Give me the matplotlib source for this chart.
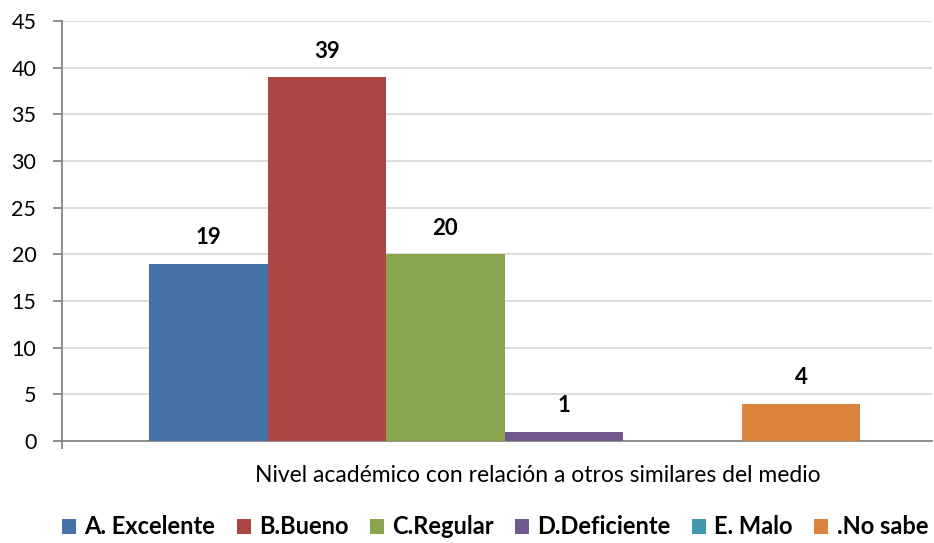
import matplotlib
matplotlib.use("Agg")
import matplotlib.pyplot as plt
from matplotlib.patches import Patch

series = ["A. Excelente", "B.Bueno", "C.Regular", "D.Deficiente", "E. Malo", ".No sabe"]
values = [19, 39, 20, 1, 0, 4]
colors = ["#4572A7", "#AA4643", "#89A54E", "#71588F", "#4198AF", "#DB843D"]
x_title = "Nivel académico con relación a otros similares del medio"
yticks = [0, 5, 10, 15, 20, 25, 30, 35, 40, 45]

plt.rcParams['font.family'] = ['Lato', 'DejaVu Sans']

W, H = 934, 543
fig = plt.figure(figsize=(W/100, H/100), dpi=100)
left, right, bottom, top = 62, 932, 441, 21
ax = fig.add_axes([left/W, 1 - bottom/H, (right-left)/W, (bottom-top)/H])

for i, (v, c) in enumerate(zip(values, colors)):
    ax.bar(i, v, width=1.0, color=c, zorder=3)
    if v > 0:
        ax.annotate(str(v), (i, v), xytext=(0, 11), textcoords='offset points',
                    ha='center', va='bottom', fontsize=16, fontweight='bold', color='black')

ax.set_xlim(-1.234, 6.106)
ax.set_ylim(0, 45)
ax.set_yticks(yticks)
ax.set_yticklabels([str(t) for t in yticks], fontsize=15.5)
ax.yaxis.grid(True, color='#D9D9D9', linewidth=1.3, zorder=0)
ax.set_axisbelow(True)
for s in ['top', 'right']:
    ax.spines[s].set_visible(False)
for s in ['left', 'bottom']:
    ax.spines[s].set_color('#868686')
    ax.spines[s].set_linewidth(1.3)
ax.tick_params(axis='y', length=6.5, width=1.3, color='#868686', pad=12)
ax.set_xticks([-1.234])
ax.set_xticklabels([''])
ax.tick_params(axis='x', length=6, width=1.3, color='#868686')

fig.text(538/W, 1 - 476/H, x_title, ha='center', va='center', fontsize=16.5)

handles = [Patch(facecolor=c, edgecolor='none') for c in colors]
leg = fig.legend(handles, series, loc='center', bbox_to_anchor=(495/W, 1 - 527/H),
                 ncol=6, frameon=False, prop={'weight': 'bold', 'size': 17},
                 handlelength=0.6, handleheight=0.6, handletextpad=0.35, columnspacing=0.9)

fig.savefig("out.png", dpi=100)
